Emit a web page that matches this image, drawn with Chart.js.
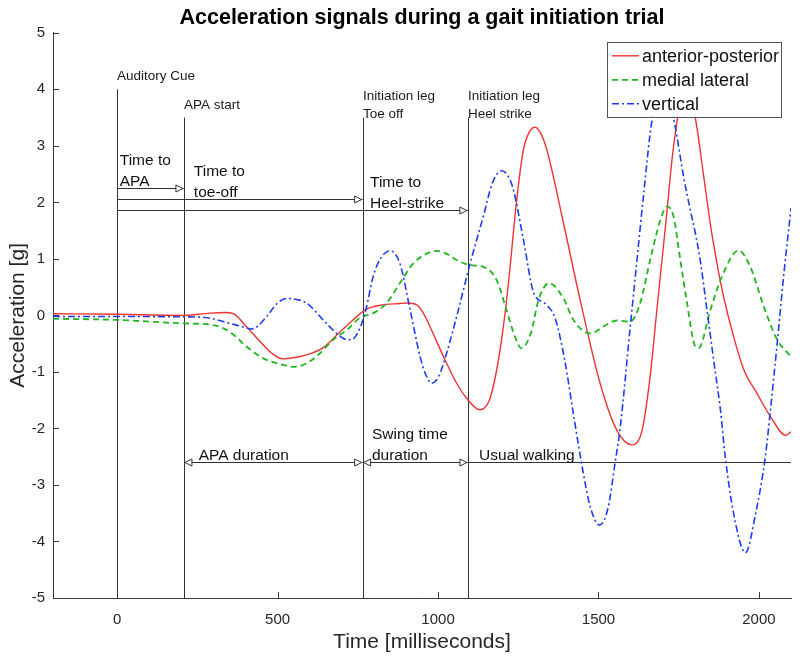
<!DOCTYPE html>
<html><head><meta charset="utf-8">
<script src="https://cdn.jsdelivr.net/npm/chart.js@4.4.1/dist/chart.umd.min.js"></script>
<style>html,body{margin:0;padding:0;background:#fff}canvas{display:block}</style>
</head><body>
<canvas id="c" width="800" height="661"></canvas>
<script>
// ---- data ----
const seriesNames = ['anterior-posterior', 'medial lateral', 'vertical'];

const apTime = [-200, 0, 200, 290, 335, 362, 403, 445, 480, 515, 550, 600, 640, 684, 735, 777, 820, 880, 905, 933, 955, 975, 1017, 1058, 1090, 1130, 1160, 1180, 1200, 1220, 1245, 1266, 1285, 1303, 1320, 1339, 1391, 1443, 1505, 1557, 1604, 1636, 1661, 1682, 1698, 1714, 1729, 1750, 1775, 1800, 1828, 1849, 1870, 1890, 1921, 1953, 1994, 2036, 2083, 2100];
const apValues = [0.03, 0.02, 0.0, 0.04, 0.05, 0.03, -0.2, -0.46, -0.66, -0.77, -0.75, -0.68, -0.58, -0.35, -0.08, 0.11, 0.18, 0.21, 0.22, 0.19, 0.03, -0.2, -0.73, -1.2, -1.47, -1.67, -1.5, -1.05, -0.35, 0.6, 2.04, 2.93, 3.25, 3.33, 3.22, 2.93, 1.63, 0.27, -1.2, -2.03, -2.29, -2.03, -1.08, 0.1, 0.98, 1.87, 2.75, 3.6, 4.0, 3.55, 2.46, 1.6, 0.9, 0.33, -0.37, -0.96, -1.38, -1.79, -2.12, -2.06];

const mlTime = [-200, 0, 200, 298, 351, 403, 455, 507, 549, 590, 632, 673, 715, 757, 798, 840, 881, 923, 960, 996, 1030, 1058, 1100, 1141, 1183, 1212, 1240, 1260, 1290, 1313, 1346, 1391, 1422, 1474, 1526, 1557, 1599, 1630, 1661, 1693, 1714, 1734, 1755, 1776, 1798, 1812, 1849, 1885, 1937, 1973, 2015, 2057, 2100];
const mlValues = [-0.06, -0.08, -0.14, -0.17, -0.29, -0.55, -0.76, -0.86, -0.91, -0.85, -0.67, -0.43, -0.26, -0.04, 0.04, 0.22, 0.57, 0.92, 1.08, 1.14, 1.08, 0.98, 0.89, 0.86, 0.62, 0.12, -0.38, -0.58, -0.3, 0.27, 0.57, 0.3, -0.08, -0.32, -0.16, -0.09, -0.11, 0.22, 0.98, 1.69, 1.93, 1.75, 0.98, 0.22, -0.5, -0.58, 0.1, 0.69, 1.15, 0.86, 0.16, -0.43, -0.73];

const vTime = [-200, 0, 257, 298, 351, 390, 419, 440, 466, 500, 528, 560, 590, 642, 684, 710, 730, 757, 775, 798, 820, 850, 881, 913, 944, 962, 980, 1000, 1017, 1058, 1100, 1141, 1170, 1199, 1220, 1235, 1266, 1297, 1335, 1365, 1395, 1422, 1453, 1475, 1503, 1530, 1552, 1568, 1599, 1620, 1641, 1667, 1703, 1739, 1765, 1786, 1802, 1817, 1838, 1859, 1880, 1895, 1921, 1958, 1990, 2020, 2036, 2057, 2077, 2100];
const vValues = [-0.02, -0.02, -0.03, -0.06, -0.14, -0.2, -0.24, -0.18, -0.02, 0.22, 0.3, 0.28, 0.22, -0.08, -0.32, -0.42, -0.43, -0.22, 0.1, 0.69, 1.0, 1.14, 0.92, 0.1, -0.73, -1.05, -1.2, -1.1, -0.85, -0.02, 0.92, 1.75, 2.35, 2.56, 2.45, 2.22, 1.34, 0.42, 0.2, -0.05, -0.8, -1.75, -2.8, -3.4, -3.71, -3.4, -2.6, -1.97, -0.2, 0.98, 2.16, 3.46, 4.1, 3.34, 2.46, 1.87, 1.45, 0.98, 0.1, -0.79, -1.67, -2.5, -3.5, -4.2, -3.5, -2.5, -1.67, -0.49, 0.69, 1.9];

const xTickValues = [0, 500, 1000, 1500, 2000];
const yTickValues = [-5, -4, -3, -2, -1, 0, 1, 2, 3, 4, 5];

// gait events (ms) and the height (g) their marker lines reach
const eventTimes = [0, 208, 765, 1093];
const eventTops = [4, 3.5, 3.5, 3.5];
const eventNames = [['Auditory Cue'], ['APA start'], ['Initiation leg', 'Toe off'], ['Initiation leg', 'Heel strike']];

// interval arrows
const intervalStarts = [0, 0, 0, 208, 765, 1093];
const intervalEnds = [208, 765, 1093, 765, 1093, 2100];
const intervalLevels = [2.26, 2.06, 1.86, -2.6, -2.6, -2.6];
const intervalLabelTimes = [8, 239, 788, 254, 794, 1128];
const intervalNames = [['Time to', 'APA'], ['Time to', 'toe-off'], ['Time to', 'Heel-strike'], ['APA duration'], ['Swing time', 'duration'], ['Usual walking']];
const intervalStartArrow = [false, false, false, true, true, false];
const intervalEndArrow = [true, true, true, true, true, false];

// ---- drawing ----
const FONT = "'Liberation Sans', Arial, Helvetica, sans-serif";
const seriesColors = ['#f03232', '#22b522', '#1e3cf5'];
const seriesDash = [[], [6, 4], [7, 3, 2, 3]];
const seriesWidth = [1.4, 1.8, 1.6];
const toPts = (ts, vs) => ts.map((t, i) => ({x: t, y: vs[i]}));

function arrowHead(ctx, tipX, y, dir) {
  ctx.beginPath();
  ctx.moveTo(tipX, y);
  ctx.lineTo(tipX - dir * 7, y - 3.5);
  ctx.lineTo(tipX - dir * 7, y + 3.5);
  ctx.closePath();
  ctx.fillStyle = '#fff';
  ctx.fill();
  ctx.stroke();
}

const annotPlugin = {
  id: 'annot',
  beforeDraw(chart) {
    const c = chart.ctx;
    c.save(); c.fillStyle = '#fff'; c.fillRect(0, 0, chart.width, chart.height); c.restore();
  },
  beforeDatasetsDraw(chart) {
    const {ctx, scales: {x, y}, chartArea} = chart;
    ctx.save();
    // inward tick marks
    ctx.strokeStyle = '#3a3a3a'; ctx.lineWidth = 1;
    xTickValues.forEach(v => {
      const px = Math.round(x.getPixelForValue(v)) + 0.5;
      ctx.beginPath(); ctx.moveTo(px, chartArea.bottom); ctx.lineTo(px, chartArea.bottom - 6); ctx.stroke();
    });
    yTickValues.forEach(v => {
      const py = Math.round(y.getPixelForValue(v)) + 0.5;
      ctx.beginPath(); ctx.moveTo(chartArea.left, py); ctx.lineTo(chartArea.left + 6, py); ctx.stroke();
    });
    // event lines
    const yb = y.getPixelForValue(-5);
    ctx.strokeStyle = '#333'; ctx.lineWidth = 1;
    ctx.textAlign = 'left'; ctx.textBaseline = 'alphabetic';
    eventTimes.forEach((t, i) => {
      const px = Math.round(x.getPixelForValue(t)) + 0.5;
      const top = y.getPixelForValue(eventTops[i]);
      ctx.beginPath(); ctx.moveTo(px, top); ctx.lineTo(px, yb); ctx.stroke();
      ctx.font = '13.5px ' + FONT; ctx.fillStyle = '#1a1a1a';
      const lines = eventNames[i];
      const base = lines.length > 1 ? top : top - 9;
      lines.forEach((s, k) => ctx.fillText(s, px - 0.5, base - (lines.length - 1 - k) * 18));
    });
    // interval arrows
    intervalStarts.forEach((t0, i) => {
      const x0 = x.getPixelForValue(t0), x1 = x.getPixelForValue(intervalEnds[i]);
      const py = Math.round(y.getPixelForValue(intervalLevels[i])) + 0.5;
      ctx.strokeStyle = '#333'; ctx.lineWidth = 1;
      ctx.beginPath(); ctx.moveTo(x0, py); ctx.lineTo(x1, py); ctx.stroke();
      if (intervalEndArrow[i]) arrowHead(ctx, x1 - 1, py, 1);
      if (intervalStartArrow[i]) arrowHead(ctx, x0 + 1, py, -1);
      ctx.font = '15.5px ' + FONT; ctx.fillStyle = '#111';
      const lines = intervalNames[i];
      const lx = x.getPixelForValue(intervalLabelTimes[i]);
      lines.forEach((s, k) => ctx.fillText(s, lx, py - 2.5 - (lines.length - 1 - k) * 21));
    });
    ctx.restore();
  },
  afterDatasetsDraw(chart) {
    const {ctx, chartArea} = chart;
    ctx.save();
    const bw = 174, bh = 75;
    const bx = chartArea.right - 10 - bw, by = chartArea.top + 9;
    ctx.fillStyle = '#fff';
    ctx.fillRect(bx, by, bw, bh);
    ctx.strokeStyle = '#555'; ctx.lineWidth = 1;
    ctx.strokeRect(Math.round(bx) + 0.5, Math.round(by) + 0.5, bw, bh);
    ctx.font = '18px ' + FONT; ctx.textBaseline = 'middle'; ctx.textAlign = 'left';
    seriesNames.forEach((n, i) => {
      const ry = by + 14 + i * 24;
      ctx.strokeStyle = seriesColors[i]; ctx.lineWidth = seriesWidth[i];
      ctx.setLineDash(seriesDash[i]);
      ctx.beginPath(); ctx.moveTo(bx + 5, ry); ctx.lineTo(bx + 32, ry); ctx.stroke();
      ctx.setLineDash([]);
      ctx.fillStyle = '#111';
      ctx.fillText(n, bx + 35, ry + 1);
    });
    ctx.restore();
  }
};

const datasets = [
  toPts(apTime, apValues), toPts(mlTime, mlValues), toPts(vTime, vValues)
].map((d, i) => ({
  label: seriesNames[i], data: d, borderColor: seriesColors[i], borderWidth: seriesWidth[i],
  borderDash: seriesDash[i], pointRadius: 0, fill: false, cubicInterpolationMode: 'monotone',
  order: 2 - i
}));

new Chart(document.getElementById('c').getContext('2d'), {
  type: 'line',
  data: {datasets},
  options: {
    responsive: false, animation: false, devicePixelRatio: 1,
    layout: {padding: {left: 0, right: 9, top: 0, bottom: 0}},
    plugins: {
      legend: {display: false}, tooltip: {enabled: false},
      title: {display: true, text: 'Acceleration signals during a gait initiation trial', fullSize: false,
        color: '#000', font: {family: FONT, size: 21.5, weight: 'bold'}, padding: {top: 5, bottom: 2}}
    },
    scales: {
      x: {
        type: 'linear', min: -200, max: 2100,
        afterBuildTicks: s => { s.ticks = xTickValues.map(v => ({value: v})); },
        afterFit: s => { s.height = 63; },
        grid: {display: false, drawTicks: false},
        border: {display: true, color: '#3a3a3a', width: 1},
        ticks: {padding: 13, color: '#262626', font: {family: FONT, size: 15}, callback: v => String(v)},
        title: {display: true, text: 'Time [milliseconds]', color: '#262626', font: {family: FONT, size: 21}, padding: {top: 0, bottom: 6}}
      },
      y: {
        type: 'linear', min: -5, max: 5,
        afterBuildTicks: s => { s.ticks = yTickValues.map(v => ({value: v})); },
        afterFit: s => { s.width = 53; },
        grid: {display: false, drawTicks: false},
        border: {display: true, color: '#3a3a3a', width: 1},
        ticks: {padding: 8, color: '#262626', font: {family: FONT, size: 15}, callback: v => String(v)},
        title: {display: true, text: 'Acceleration [g]', color: '#262626', font: {family: FONT, size: 21}, padding: {top: 6, bottom: 0}}
      }
    }
  },
  plugins: [annotPlugin]
});
</script>
</body></html>
